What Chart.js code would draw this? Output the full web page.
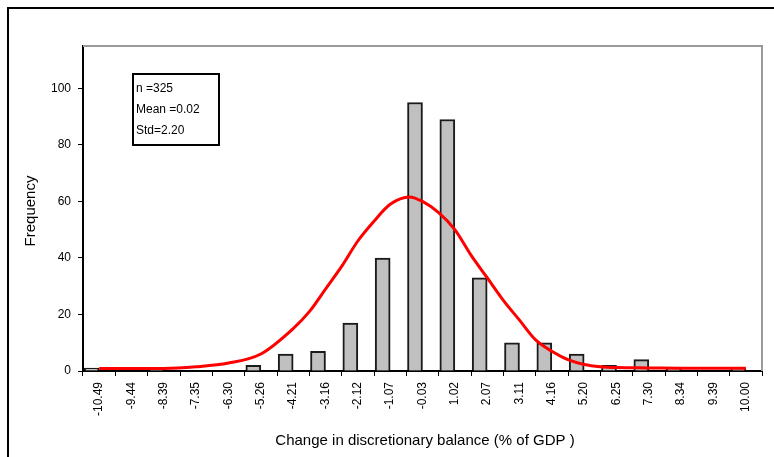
<!DOCTYPE html>
<html>
<head>
<meta charset="utf-8">
<script src="https://cdn.jsdelivr.net/npm/chart.js@4"></script>
<style>
  html, body { margin: 0; padding: 0; background: #fff; }
  #wrap { width: 774px; height: 457px; }
</style>
</head>
<body>
<div id="wrap"><canvas id="grafico" width="774" height="457"></canvas></div>
<script>
// Clases del histograma (etiquetas del eje X)
const categorias = ['-10.49', '-9.44', '-8.39', '-7.35', '-6.30', '-5.26', '-4.21', '-3.16', '-2.12', '-1.07',
  '-0.03', '1.02', '2.07', '3.11', '4.16', '5.20', '6.25', '7.30', '8.34', '9.39', '10.00'];
// Frecuencia observada por clase
const frecuencias = [1, 0, 1, 0, 0, 2, 6, 7, 17, 40, 95, 89, 33, 10, 10, 6, 2, 4, 1, 0, 1];
// Curva normal ajustada (posicion en indice de clase -> frecuencia)
const curvaPos = [0, 1, 2, 3, 4, 5, 6, 6.5, 7, 7.5, 8, 8.5, 9, 9.6, 10, 10.5, 11, 11.5, 12, 12.5, 13, 13.5, 14, 14.5, 15, 15.5, 16, 17, 18, 19, 20];
const curvaValores = [0.9, 0.9, 0.9, 1.5, 2.8, 6, 15, 21, 29, 37, 46, 53, 59, 61.6, 60, 56, 50, 41, 33, 25, 18, 11, 7, 4, 2.3, 1.5, 1.2, 1.1, 1, 1, 1];
const yTicks = [0, 20, 40, 60, 80, 100];
const resumenTexto = ['n =325', 'Mean =0.02', 'Std=2.20'];
const tituloX = 'Change in discretionary balance (% of GDP )';
const tituloY = 'Frequency';

const FUENTE = '"Liberation Sans", Arial, sans-serif';

// Marco exterior, borde gris del area, titulos y recuadro de resumen
const decoracion = {
  id: 'decoracion',
  beforeDraw(chart) {
    const ctx = chart.ctx;
    ctx.save();
    ctx.fillStyle = '#fff';
    ctx.fillRect(0, 0, chart.width, chart.height);
    ctx.strokeStyle = '#000';
    ctx.lineWidth = 2;
    ctx.beginPath();
    ctx.moveTo(8, chart.height);
    ctx.lineTo(8, 8);
    ctx.lineTo(chart.width, 8);
    ctx.stroke();
    ctx.restore();
  },
  afterDraw(chart) {
    const ctx = chart.ctx;
    const a = chart.chartArea;
    ctx.save();
    // borde gris arriba y a la derecha
    ctx.strokeStyle = '#9a9a9a';
    ctx.lineWidth = 2;
    ctx.beginPath();
    ctx.moveTo(a.left, a.top);
    ctx.lineTo(a.right, a.top);
    ctx.lineTo(a.right, a.bottom);
    ctx.stroke();

    // recuadro con n, media y desviacion
    ctx.strokeStyle = '#000';
    ctx.lineWidth = 2;
    ctx.fillStyle = '#fff';
    ctx.fillRect(133, 74, 86, 71);
    ctx.strokeRect(133, 74, 86, 71);
    ctx.fillStyle = '#000';
    ctx.font = '12px ' + FUENTE;
    ctx.textAlign = 'left';
    ctx.textBaseline = 'middle';
    resumenTexto.forEach((t, i) => ctx.fillText(t, 136, 89 + i * 21));

    // titulos de ejes
    ctx.font = '15px ' + FUENTE;
    ctx.textAlign = 'center';
    ctx.fillText(tituloX, 425, 441);
    ctx.translate(31, 211);
    ctx.rotate(-Math.PI / 2);
    ctx.fillText(tituloY, 0, 0);
    ctx.restore();
  }
};

const ctx = document.getElementById('grafico').getContext('2d');
new Chart(ctx, {
  type: 'bar',
  data: {
    labels: categorias,
    datasets: [
      {
        type: 'bar',
        label: 'Frecuencia',
        data: frecuencias,
        backgroundColor: '#c0c0c0',
        borderColor: '#1a1a1a',
        borderWidth: 2,
        borderSkipped: 'bottom',
        barThickness: 15,
        order: 2
      },
      {
        type: 'line',
        label: 'Normal',
        data: curvaPos.map((p, i) => ({ x: p, y: curvaValores[i] })),
        xAxisID: 'xc',
        borderColor: '#ff0000',
        borderWidth: 3,
        pointRadius: 0,
        tension: 0.4,
        cubicInterpolationMode: 'monotone',
        fill: false,
        order: 1
      }
    ]
  },
  options: {
    responsive: false,
    animation: false,
    devicePixelRatio: 1,
    layout: { padding: { left: 0, top: 46, right: 12, bottom: 0 } },
    plugins: {
      legend: { display: false },
      tooltip: { enabled: false }
    },
    scales: {
      x: {
        type: 'category',
        offset: true,
        afterFit: s => { s.height = 86; },
        border: { display: true, color: '#000', width: 2 },
        grid: { offset: true, drawOnChartArea: false, drawTicks: true, tickLength: 5, color: '#000', lineWidth: 1 },
        ticks: {
          autoSkip: false, maxRotation: 90, minRotation: 90, padding: 6,
          color: '#000', font: { family: FUENTE, size: 12 }
        }
      },
      xc: {
        type: 'linear',
        display: false,
        offset: false,
        grid: { offset: false },
        min: -0.5,
        max: 20.5
      },
      y: {
        min: 0,
        max: 115,
        afterFit: s => { s.width = 83; },
        afterBuildTicks: s => { s.ticks = yTicks.map(v => ({ value: v })); },
        border: { display: true, color: '#000', width: 2 },
        grid: { drawOnChartArea: false, drawTicks: true, tickLength: 5, color: '#000', lineWidth: 1 },
        ticks: { padding: 7, color: '#000', font: { family: FUENTE, size: 12 } }
      }
    }
  },
  plugins: [decoracion]
});
</script>
</body>
</html>
